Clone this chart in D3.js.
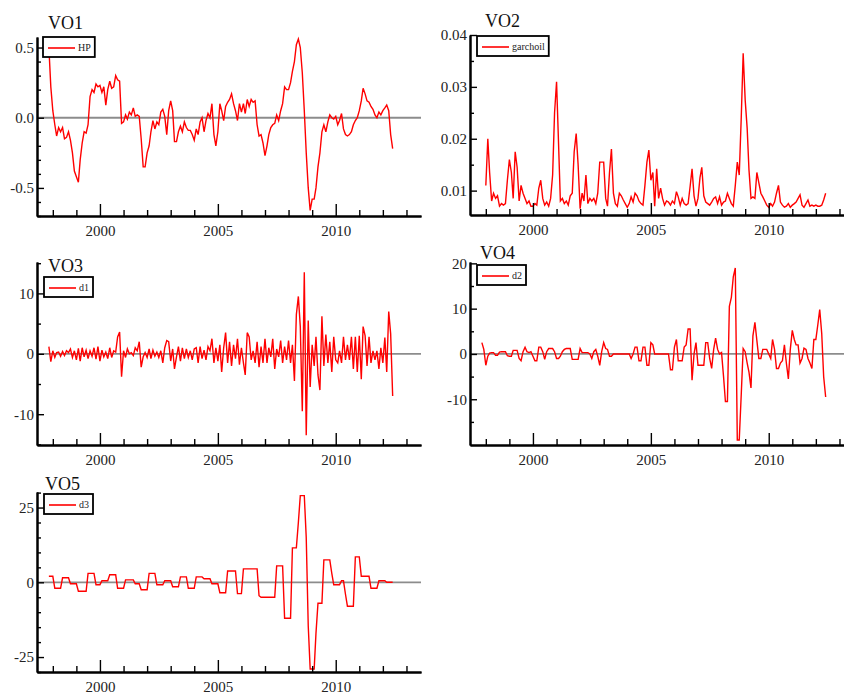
<!DOCTYPE html>
<html>
<head>
<meta charset="utf-8">
<script src="https://cdn.jsdelivr.net/npm/d3@7"></script>
<style>
  body { margin: 0; background: #fff; }
  svg { display: block; font-family: "Liberation Serif", "DejaVu Serif", serif; }
</style>
</head>
<body>
<svg width="844" height="695"></svg>
<script>
// monthly observations, Nov 1997 .. Jun 2012
const months = d3.timeMonth.range(new Date(1997, 10, 1), new Date(2012, 6, 1));

const majorYears = [2000, 2005, 2010];
const minorYears = [1998, 1999, 2001, 2002, 2003, 2004, 2006, 2007, 2008, 2009, 2011, 2012, 2013];

// VO1 - HP
const hp = [0.50,0.22,0.05,-0.05,-0.13,-0.07,-0.10,-0.07,-0.15,-0.14,
  -0.10,-0.16,-0.25,-0.38,-0.42,-0.46,-0.30,-0.18,-0.10,-0.11,
  -0.05,0.15,0.20,0.18,0.24,0.22,0.23,0.18,0.22,0.09,
  0.20,0.26,0.21,0.22,0.30,0.27,0.26,-0.04,-0.03,0.02,
  -0.01,0.04,0.02,0.07,0.01,0.02,0.01,-0.15,-0.35,-0.35,
  -0.25,-0.20,-0.10,-0.02,-0.08,-0.03,-0.05,0.04,0.06,0.01,
  -0.12,0.05,0.12,0.05,-0.17,-0.17,-0.10,-0.06,-0.10,-0.03,
  -0.07,-0.09,-0.09,-0.12,-0.16,-0.08,-0.12,-0.03,0.00,-0.10,
  -0.02,0.03,0.00,0.10,-0.12,-0.20,-0.10,0.10,0.05,-0.02,
  0.08,0.11,0.13,0.17,0.10,0.05,-0.02,0.10,0.04,0.10,
  0.03,0.13,0.08,0.13,0.11,0.12,-0.05,-0.13,-0.12,-0.18,
  -0.27,-0.20,-0.12,-0.07,-0.05,-0.04,0.02,-0.02,0.05,0.10,
  0.22,0.20,0.20,0.25,0.33,0.40,0.52,0.56,0.50,0.32,
  0.05,-0.25,-0.50,-0.66,-0.58,-0.58,-0.50,-0.35,-0.25,-0.10,
  -0.05,-0.10,-0.03,0.02,0.00,-0.01,0.01,-0.05,-0.02,0.03,
  -0.08,-0.12,-0.13,-0.12,-0.10,-0.05,-0.02,0.00,0.05,0.12,
  0.21,0.17,0.12,0.11,0.08,0.06,0.02,0.00,0.04,0.02,
  0.05,0.07,0.09,0.05,-0.12,-0.22];

// VO2 - garchoil (starts two months later)
const garchoil = [null,null,0.011,0.020,0.0135,0.008,0.0095,0.0085,0.009,0.007,
  0.0075,0.0072,0.0075,0.012,0.016,0.0135,0.0085,0.0175,0.0145,0.008,
  0.011,0.0095,0.0085,0.0075,0.008,0.007,0.007,0.0075,0.0072,0.0105,
  0.012,0.0085,0.0072,0.0078,0.007,0.0085,0.013,0.025,0.031,0.019,
  0.008,0.0085,0.0075,0.008,0.0072,0.009,0.0095,0.0175,0.021,0.015,
  0.0065,0.0095,0.008,0.013,0.0075,0.0085,0.008,0.0085,0.0075,0.0095,
  0.0155,0.0155,0.0155,0.0085,0.007,0.0135,0.018,0.0095,0.0075,0.007,
  0.0095,0.009,0.0082,0.0075,0.0068,0.0075,0.0088,0.0078,0.0095,0.009,
  0.008,0.0075,0.0072,0.011,0.0155,0.0178,0.012,0.0135,0.007,0.0142,
  0.0085,0.0105,0.0085,0.0072,0.008,0.0078,0.0072,0.008,0.0075,0.0098,
  0.0088,0.0072,0.0085,0.0075,0.0072,0.0075,0.0108,0.0142,0.009,0.007,
  0.0085,0.0125,0.0145,0.009,0.0078,0.0075,0.0072,0.0078,0.0085,0.0088,
  0.0075,0.0088,0.0072,0.0078,0.008,0.0095,0.0085,0.0075,0.007,0.011,
  0.0155,0.013,0.024,0.0365,0.0275,0.022,0.014,0.0085,0.0088,0.0085,
  0.0135,0.0115,0.0095,0.0088,0.008,0.0072,0.0068,0.0075,0.007,0.0078,
  0.0095,0.011,0.0078,0.0072,0.0068,0.007,0.0075,0.0068,0.0072,0.0075,
  0.0078,0.0085,0.0092,0.0072,0.0068,0.0075,0.0082,0.007,0.0072,0.007,
  0.0072,0.007,0.007,0.0072,0.0082,0.0095];

// VO3 - d1
const d1 = [1.2,-1.3,0.5,-0.6,0.2,0.3,-0.4,0.4,-0.3,0.5,
  0.2,0.8,-0.6,0.5,-1.0,0.9,-1.2,1.0,-0.5,0.6,
  -0.8,0.5,-0.4,1.0,-0.9,1.2,-1.2,0.6,-0.5,0.3,
  -0.8,1.0,-0.6,0.5,0.3,2.8,3.6,-3.8,0.5,-0.6,
  0.8,0.0,0.2,-0.3,1.0,0.5,2.0,-2.2,-0.5,0.2,
  -0.6,0.8,-0.8,0.6,-0.4,0.3,-0.6,0.5,-1.5,1.0,
  2.2,2.0,-1.2,0.8,-2.5,-0.5,1.2,-1.2,1.0,-0.8,
  0.8,-0.6,0.5,-1.0,0.8,1.0,-1.5,1.2,-0.8,0.6,
  -1.0,1.2,0.5,2.5,-1.5,1.0,-1.2,1.5,-3.0,1.0,
  3.5,-1.5,2.0,-2.0,1.5,-0.8,2.5,-1.8,1.0,-1.5,
  -3.5,3.5,2.8,-1.0,0.5,-1.5,2.0,-2.2,1.2,-1.5,
  2.5,-1.5,1.0,-0.5,2.5,-2.5,0.8,-0.5,2.2,-1.5,
  1.2,-1.0,2.2,-1.5,1.5,-4.5,6.5,9.5,4.5,-9.5,
  13.5,-13.5,5.5,-5.5,1.5,-2.0,2.8,-3.5,-6.0,6.2,
  -2.0,3.2,-1.5,2.0,-3.0,2.8,-1.0,-1.5,0.5,-1.5,
  2.8,-1.0,1.5,-1.0,2.8,-2.5,2.8,-3.0,3.0,-4.2,
  4.5,3.0,-2.0,2.8,-1.5,0.5,-1.0,0.5,-2.5,1.0,
  -1.5,2.7,-3.0,7.0,3.3,-7.0];

// VO4 - d2
const d2 = [2.5,1.0,-2.5,-0.5,0.2,0.3,0.3,-0.3,-0.3,0.4,
  0.5,0.5,0.5,-0.4,-0.5,-0.5,0.8,0.8,0.8,-1.0,
  -1.5,0.5,1.5,0.5,0.3,0.5,-0.5,-1.5,-1.5,1.5,
  1.5,0.5,-1.2,0.5,1.2,1.2,1.2,0.5,-1.0,-1.0,
  -0.5,0.5,1.0,1.2,1.2,1.2,-1.2,-1.2,-1.2,-1.2,
  1.2,0.3,0.3,0.3,0.3,0.0,-1.0,0.5,1.0,-0.5,
  -2.5,0.5,2.5,1.2,1.0,-0.5,-0.5,0.0,0.0,0.0,
  0.0,0.0,0.0,0.0,0.0,0.0,-1.0,0.0,1.5,1.5,
  -1.5,-1.5,1.5,1.5,-2.5,-2.5,2.5,2.0,0.0,0.0,
  0.0,0.0,0.0,0.0,0.0,0.0,-3.5,-3.5,1.5,3.2,
  -1.5,-1.5,-1.5,1.5,2.0,5.5,5.5,-5.8,0.0,2.5,
  -2.5,-2.5,-2.5,-2.5,2.5,2.5,-1.0,-3.2,1.0,3.5,
  1.0,0.0,0.3,-5.0,-10.5,-10.5,10.5,12.5,17.0,19.0,
  -19.0,-19.0,-9.0,1.2,0.5,-2.0,-4.0,-7.5,4.0,7.0,
  3.0,-1.0,-1.0,1.0,1.0,1.0,0.0,-1.0,3.2,1.0,
  -3.2,-3.2,-2.0,-1.5,2.0,-2.0,-5.5,1.0,5.2,3.2,
  2.0,2.0,-2.0,-1.0,1.3,1.0,-1.0,-2.0,-3.2,3.2,
  3.2,6.5,9.8,4.5,-5.0,-9.5];

// VO5 - d3
const d3s = [2,2,2,-2,-2,-2,-2,1.5,1.5,1.5,
  1.5,-0.5,-0.5,-0.5,-0.5,-3,-3,-3,-3,-3,
  3,3,3,3,-0.8,-0.8,-0.8,0.5,0.5,0.5,
  0.5,2.5,2.5,2.5,2.5,-2,-2,-2,-2,0.8,
  0.8,0.8,0.8,0.8,-0.5,-0.5,-0.5,-2.5,-2.5,-2.5,
  -2.5,3,3,3,3,-0.8,-0.8,-0.8,-0.8,0.5,
  0.5,0.5,0.5,-1.5,-1.5,-1.5,-1.5,1.8,1.8,1.8,
  1.8,-2,-2,-2,-2,1.8,1.8,1.8,1.8,1.2,
  1.2,1.2,1.2,-0.5,-0.5,-0.5,-0.5,-3.5,-3.5,-3.5,
  -3.5,3.8,3.8,3.8,3.8,3.8,-3.8,-3.8,-3.8,4.5,
  4.5,4.5,4.5,4.5,4.5,4.5,4.5,-4.5,-5,-5,
  -5,-5,-5,-5,-5,-5,5.5,5.5,5.5,5.5,
  -12,-12,-12,-12,11.5,11.5,11.5,20,29,29,
  29,15,-14.5,-29,-29,-29,-17,-7,-7,-7,
  7.5,7.5,7.5,7.5,3,-0.8,-0.8,-0.8,-0.8,0.5,
  0.5,-4,-8,-8,-8,-8,8.5,8.5,8.5,2,
  2,2,2,2,-2,-2,-2,-2,0.5,0.5,
  0.5,0.5,0,0,0,0];

const fmt1 = (d) => d.toFixed(1);
const fmt2 = (d) => d.toFixed(2);
const fmt0 = (d) => String(d);

const panels = [
  { title: "VO1", label: "HP", values: hp, left: 37, top: 37, bottom: 216,
    domain: [-0.70, 0.575], major: [-0.5, 0, 0.5],
    minor: [-0.7, -0.6, -0.4, -0.3, -0.2, -0.1, 0.1, 0.2, 0.3, 0.4],
    fmt: fmt1, zero: true, tx: 48, ty: 29, lx: 43, ly: 37 },
  { title: "VO2", label: "garchoil", values: garchoil, left: 470, top: 35, bottom: 215,
    domain: [0.0053, 0.04], major: [0.01, 0.02, 0.03, 0.04],
    minor: [0.015, 0.025, 0.035],
    fmt: fmt2, zero: false, tx: 485, ty: 27, lx: 477, ly: 36 },
  { title: "VO3", label: "d1", values: d1, left: 37, top: 262, bottom: 445,
    domain: [-15.1, 15.2], major: [-10, 0, 10], minor: [-15, -5, 5, 15],
    fmt: fmt0, zero: true, tx: 48, ty: 272, lx: 44, ly: 277 },
  { title: "VO4", label: "d2", values: d2, left: 470, top: 262, bottom: 445,
    domain: [-20.1, 20.3], major: [-10, 0, 10, 20], minor: [-15, -5, 5, 15],
    fmt: fmt0, zero: true, tx: 480, ty: 259, lx: 477, ly: 265 },
  { title: "VO5", label: "d3", values: d3s, left: 37, top: 492, bottom: 672,
    domain: [-30, 30.2], major: [-25, 0, 25],
    minor: [-30, -20, -15, -10, -5, 5, 10, 15, 20, 30],
    fmt: fmt0, zero: true, tx: 45, ty: 490, lx: 44, ly: 494 },
];

const svg = d3.select("svg");
const plotWidth = 384;

function styleAxis(g) {
  g.select(".domain").attr("stroke", "#000").attr("stroke-width", 2);
  g.selectAll(".tick line").attr("stroke", "#000").attr("stroke-width", 1.4);
  g.selectAll(".tick text")
    .attr("fill", "#222")
    .attr("font-size", 15)
    .attr("font-family", '"Liberation Serif", serif');
}

panels.forEach((p) => {
  const g = svg.append("g");

  const x = d3
    .scaleTime()
    .domain([new Date(1997, 4, 1), new Date(2013, 7, 14)])
    .range([p.left, p.left + plotWidth]);
  const y = d3.scaleLinear().domain(p.domain).range([p.bottom, p.top]);

  // zero reference line
  if (p.zero) {
    g.append("line")
      .attr("x1", p.left)
      .attr("x2", p.left + plotWidth)
      .attr("y1", y(0))
      .attr("y2", y(0))
      .attr("stroke", "#8c8c8c")
      .attr("stroke-width", 1.8);
  }

  // series
  const line = d3
    .line()
    .defined((d) => d[1] != null)
    .x((d) => x(d[0]))
    .y((d) => y(d[1]));

  g.append("path")
    .datum(months.map((m, i) => [m, p.values[i]]))
    .attr("fill", "none")
    .attr("stroke", "#ff0000")
    .attr("stroke-width", 1.4)
    .attr("stroke-linejoin", "miter")
    .attr("d", line);

  // x axis: minor then major ticks, pointing inward
  g.append("g")
    .attr("transform", `translate(0,${p.bottom})`)
    .call(
      d3.axisBottom(x)
        .tickValues(minorYears.map((yr) => new Date(yr, 0, 1)))
        .tickSize(-6)
        .tickSizeOuter(0)
        .tickFormat("")
    )
    .call(styleAxis);
  g.append("g")
    .attr("transform", `translate(0,${p.bottom})`)
    .call(
      d3.axisBottom(x)
        .tickValues(majorYears.map((yr) => new Date(yr, 0, 1)))
        .tickSize(-12)
        .tickSizeOuter(0)
        .tickPadding(9)
        .tickFormat(d3.timeFormat("%Y"))
    )
    .call(styleAxis);

  // y axis
  g.append("g")
    .attr("transform", `translate(${p.left},0)`)
    .call(
      d3.axisLeft(y)
        .tickValues(p.minor)
        .tickSize(-4)
        .tickSizeOuter(0)
        .tickFormat("")
    )
    .call(styleAxis);
  g.append("g")
    .attr("transform", `translate(${p.left},0)`)
    .call(
      d3.axisLeft(y)
        .tickValues(p.major)
        .tickSize(-7)
        .tickSizeOuter(0)
        .tickPadding(3)
        .tickFormat(p.fmt)
    )
    .call(styleAxis);

  // title
  g.append("text")
    .attr("x", p.tx)
    .attr("y", p.ty)
    .attr("font-size", 18)
    .attr("fill", "#111")
    .text(p.title);

  // legend
  const lg = g.append("g").attr("transform", `translate(${p.lx},${p.ly})`);
  const box = lg.append("rect")
    .attr("height", 20)
    .attr("fill", "#fff")
    .attr("stroke", "#000")
    .attr("stroke-width", 1.8);
  lg.append("line")
    .attr("x1", 5).attr("x2", 32)
    .attr("y1", 11).attr("y2", 11)
    .attr("stroke", "#ff0000")
    .attr("stroke-width", 1.6);
  const lt = lg.append("text")
    .attr("x", 35)
    .attr("y", 14)
    .attr("font-size", 10)
    .attr("fill", "#222")
    .text(p.label);
  box.attr("width", 35 + lt.node().getComputedTextLength() + 4);
});
</script>
</body>
</html>
